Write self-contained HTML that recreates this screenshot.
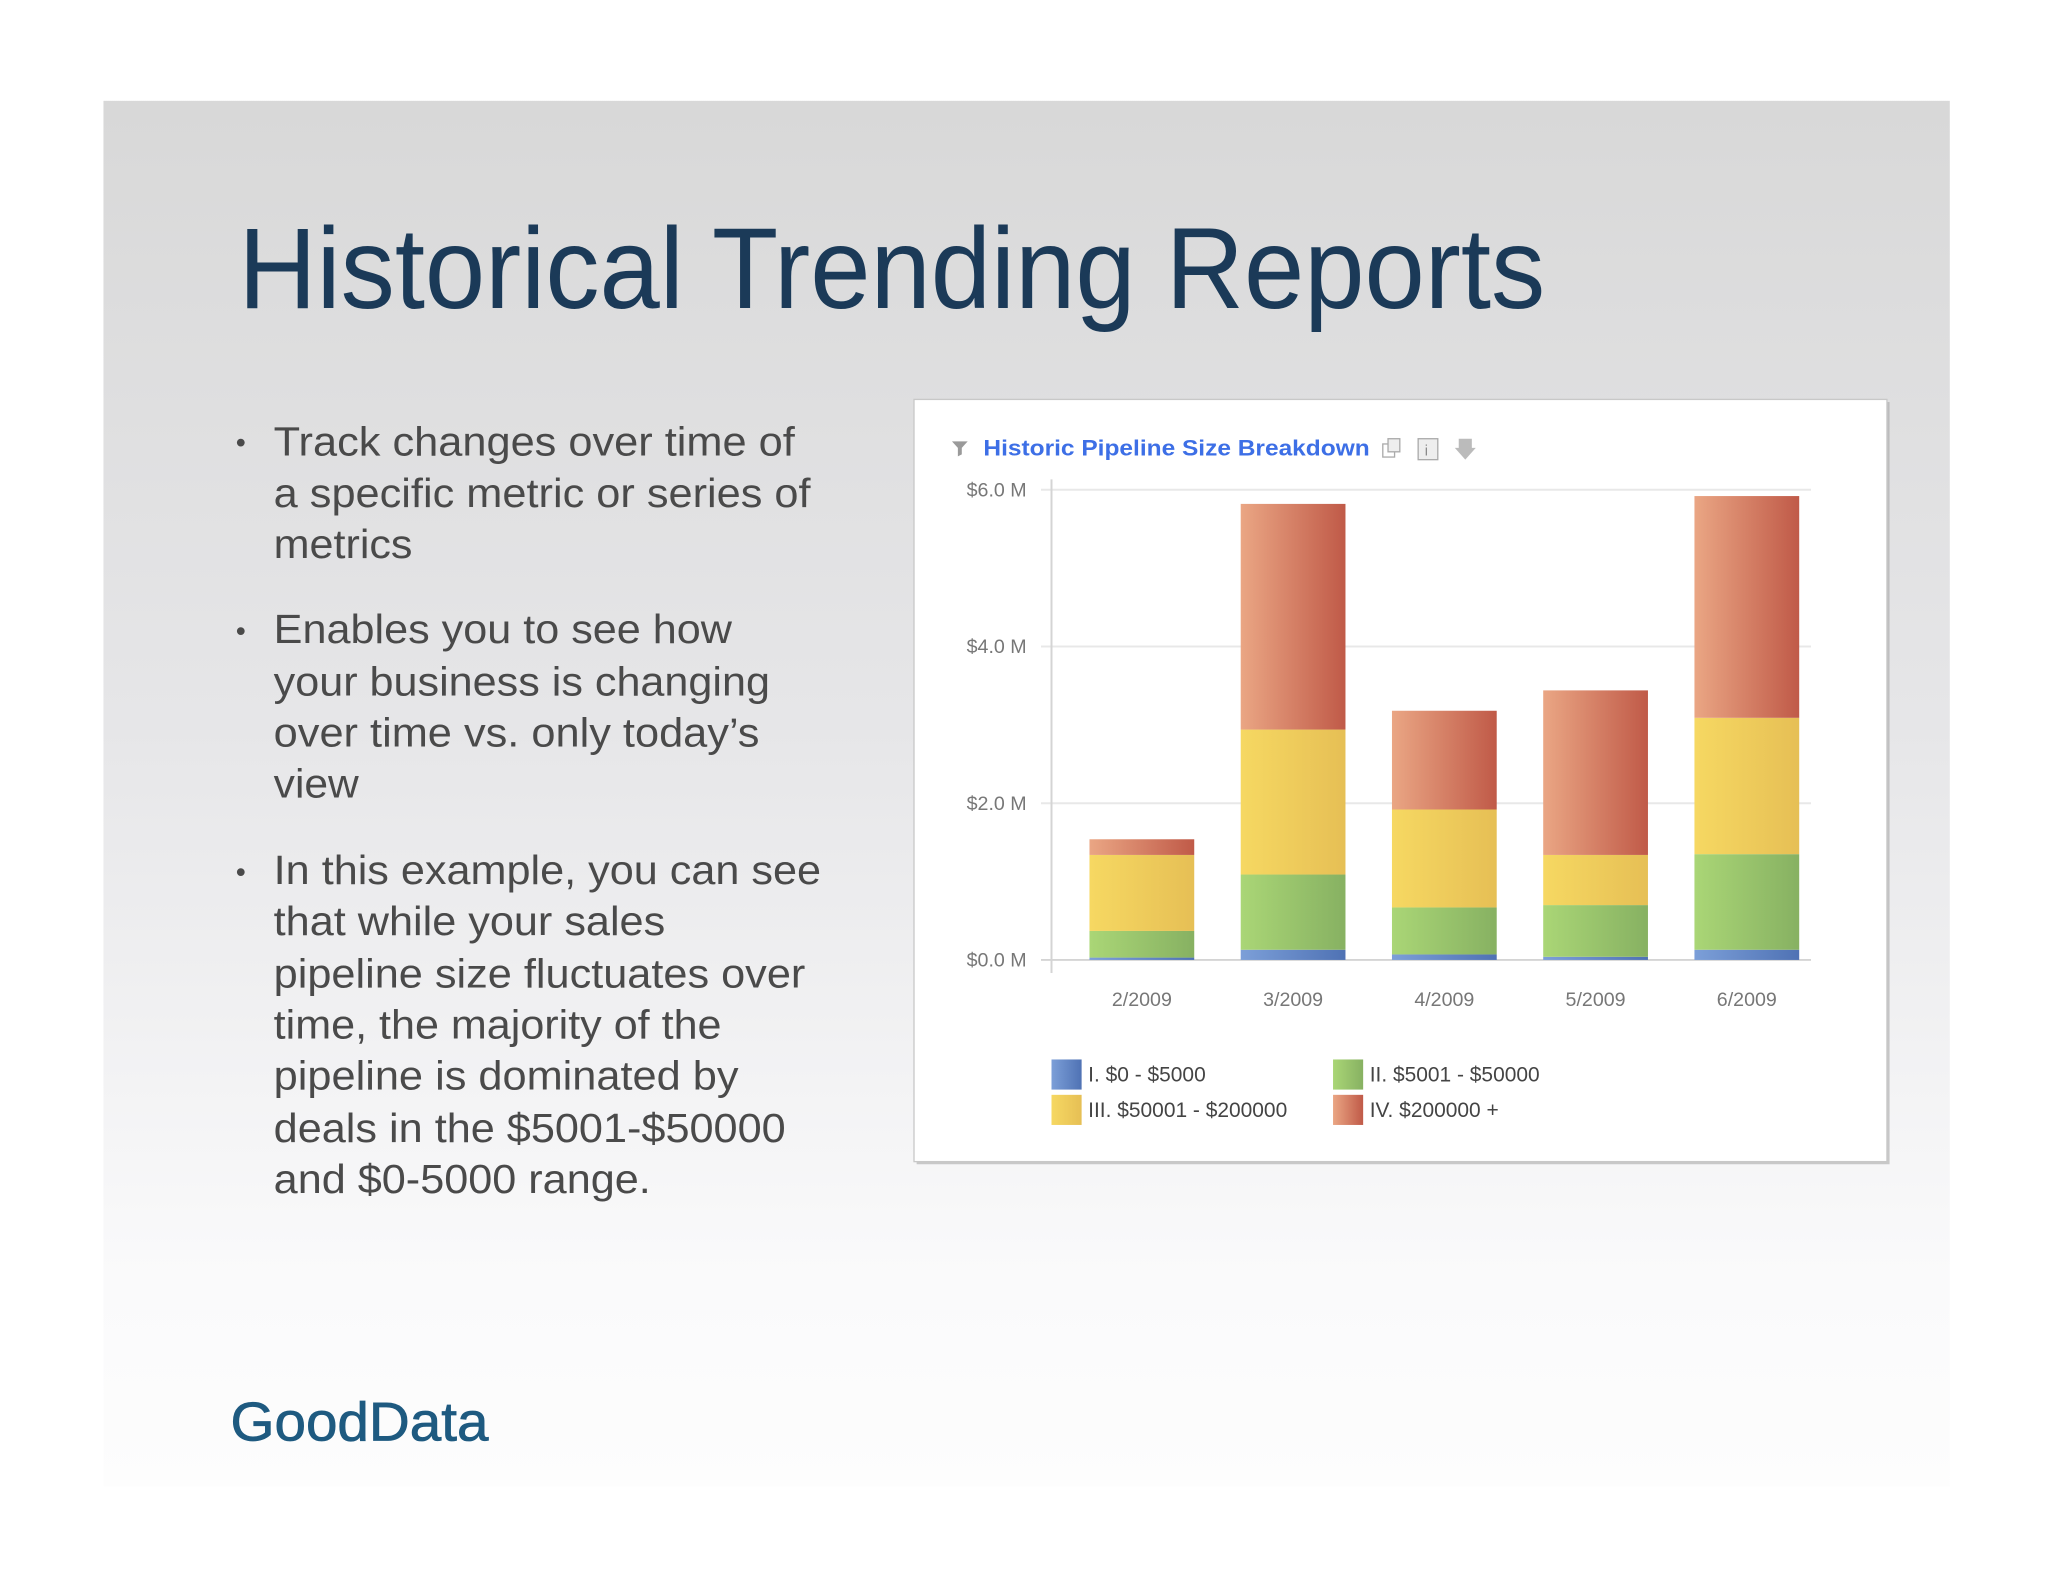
<!DOCTYPE html>
<html><head><meta charset="utf-8"><style>
html,body{margin:0;padding:0;background:#fff;}
svg{display:block;}
</style></head><body>
<svg width="2048" height="1582" viewBox="0 0 1564 1208" preserveAspectRatio="none" xmlns="http://www.w3.org/2000/svg" font-family="Liberation Sans, sans-serif">
<defs>
<linearGradient id="bg" x1="0" y1="0" x2="0" y2="1">
<stop offset="0" stop-color="#d8d8d8"/><stop offset="0.45" stop-color="#e6e6e8"/><stop offset="0.85" stop-color="#fafafb"/><stop offset="1" stop-color="#fdfdfd"/></linearGradient>
<linearGradient id="g0" x1="0" x2="1"><stop offset="0" stop-color="#7c9fd8"/><stop offset="1" stop-color="#4f72b4"/></linearGradient>
<linearGradient id="g1" x1="0" x2="1"><stop offset="0" stop-color="#aad676"/><stop offset="1" stop-color="#87b162"/></linearGradient>
<linearGradient id="g2" x1="0" x2="1"><stop offset="0" stop-color="#f6d862"/><stop offset="1" stop-color="#e6bf55"/></linearGradient>
<linearGradient id="g3" x1="0" x2="1"><stop offset="0" stop-color="#eaa684"/><stop offset="1" stop-color="#c05a48"/></linearGradient>
</defs>
<rect x="79" y="77" width="1410" height="1058" fill="url(#bg)"/>
<text x="182" y="235" font-size="88" fill="#1b3a58" textLength="998" lengthAdjust="spacingAndGlyphs">Historical Trending Reports</text>
<g font-size="31" fill="#4a4a4a">
<text x="180" y="345" font-size="22">•</text>
<text x="209" y="348" textLength="398" lengthAdjust="spacingAndGlyphs">Track changes over time of</text>
<text x="209" y="387" textLength="410" lengthAdjust="spacingAndGlyphs">a specific metric or series of</text>
<text x="209" y="426" textLength="106" lengthAdjust="spacingAndGlyphs">metrics</text>
<text x="180" y="489" font-size="22">•</text>
<text x="209" y="491" textLength="350" lengthAdjust="spacingAndGlyphs">Enables you to see how</text>
<text x="209" y="531" textLength="379" lengthAdjust="spacingAndGlyphs">your business is changing</text>
<text x="209" y="570" textLength="371" lengthAdjust="spacingAndGlyphs">over time vs. only today’s</text>
<text x="209" y="609" textLength="65" lengthAdjust="spacingAndGlyphs">view</text>
<text x="180" y="673" font-size="22">•</text>
<text x="209" y="675" textLength="418" lengthAdjust="spacingAndGlyphs">In this example, you can see</text>
<text x="209" y="714" textLength="299" lengthAdjust="spacingAndGlyphs">that while your sales</text>
<text x="209" y="754" textLength="406" lengthAdjust="spacingAndGlyphs">pipeline size fluctuates over</text>
<text x="209" y="793" textLength="342" lengthAdjust="spacingAndGlyphs">time, the majority of the</text>
<text x="209" y="832" textLength="355" lengthAdjust="spacingAndGlyphs">pipeline is dominated by</text>
<text x="209" y="872" textLength="391" lengthAdjust="spacingAndGlyphs">deals in the $5001-$50000</text>
<text x="209" y="911" textLength="288" lengthAdjust="spacingAndGlyphs">and $0-5000 range.</text>
</g>
<text x="176" y="1100" font-size="42" fill="#1e5a80" stroke="#1e5a80" stroke-width="0.6" textLength="197" lengthAdjust="spacingAndGlyphs">GoodData</text>
<g>
<rect x="700" y="307" width="743" height="582" fill="#9a9a9a" opacity="0.5"/>
<rect x="698" y="305" width="743" height="582" fill="#fff" stroke="#c8c8c8" stroke-width="1"/>
<path d="M727 337 h12 l-4.5 5 v5 l-3 1.5 v-6.5 z" fill="#9a9a9a"/>
<text x="751" y="348" font-size="17" font-weight="bold" fill="#3d6fe6" textLength="295" lengthAdjust="spacingAndGlyphs">Historic Pipeline Size Breakdown</text>
<rect x="1056" y="339" width="9" height="10" fill="none" stroke="#aaa"/>
<rect x="1060" y="335" width="9" height="10" fill="#eee" stroke="#aaa"/>
<rect x="1083" y="335" width="15" height="16" fill="#eee" stroke="#aaa"/>
<text x="1088" y="348" font-size="11" fill="#888">i</text>
<path d="M1114 335 h10 v7 h3 l-8 9 l-8 -9 h3 z" fill="#bbb"/>
<g id="chart"></g>
</g>
<script>
var categories = ["2/2009","3/2009","4/2009","5/2009","6/2009"];
var seriesNames = ["I. $0 - $5000","II. $5001 - $50000","III. $50001 - $200000","IV. $200000 +"];
var s1 = [0.03, 0.13, 0.07, 0.04, 0.13];
var s2 = [0.34, 0.96, 0.60, 0.66, 1.22];
var s3 = [0.97, 1.85, 1.25, 0.64, 1.74];
var s4 = [0.20, 2.88, 1.26, 2.10, 2.83];
var yTicks = [0, 2, 4, 6];
var yTickLabels = ["$0.0 M","$2.0 M","$4.0 M","$6.0 M"];

var NS = "http://www.w3.org/2000/svg";
var g = document.getElementById("chart");
var x0 = 803, x1 = 1383, yb = 733, yt = 374, yMax = 6;
function yS(v){ return yb - v / yMax * (yb - yt); }
var firstC = 872, step = 115.5;
function xC(i){ return firstC + step * i; }
var barW = 80;
function mk(tag, attrs){ var e = document.createElementNS(NS, tag); for (var k in attrs) e.setAttribute(k, attrs[k]); g.appendChild(e); return e; }

yTicks.forEach(function(t, i){
  var y = yS(t);
  var gl = mk("line", {x1: x0 - 8, x2: x1, y1: y, y2: y, stroke: t === 0 ? "#d4d4d4" : "#e8e8e8", "stroke-width": 1.5});
  
  
  var tl = mk("text", {x: 784, y: y + 5, "font-size": 15, fill: "#777", "text-anchor": "end"});
  
  
  tl.textContent = yTickLabels[i];
});
var ax = mk("line", {x1: x0, x2: x0, y1: yt - 8, y2: yb + 10, stroke: "#d4d4d4", "stroke-width": 1.5});



var series = [s1, s2, s3, s4];
categories.forEach(function(c, i){
  var acc = 0;
  series.forEach(function(s, k){
    var yTop = yS(acc + s[i]), yBot = yS(acc);
    var r = mk("rect", {x: xC(i) - barW / 2, y: yTop, width: barW, height: Math.max(0, yBot - yTop), fill: "url(#g" + k + ")"});
    
    
    acc += s[i];
  });
  var xl = mk("text", {x: xC(i), y: 768, "font-size": 15, fill: "#777", "text-anchor": "middle"});
  
  
  xl.textContent = c;
});

var legPos = [[803, 809], [1018, 809], [803, 836], [1018, 836]];
seriesNames.forEach(function(n, k){
  var sw = mk("rect", {x: legPos[k][0], y: legPos[k][1], width: 23, height: 23, fill: "url(#g" + k + ")"});
  
  
  var lt = mk("text", {x: legPos[k][0] + 28, y: legPos[k][1] + 17, "font-size": 16, fill: "#444"});
  
  
  lt.textContent = n;
});
</script>
</svg>
</body></html>
